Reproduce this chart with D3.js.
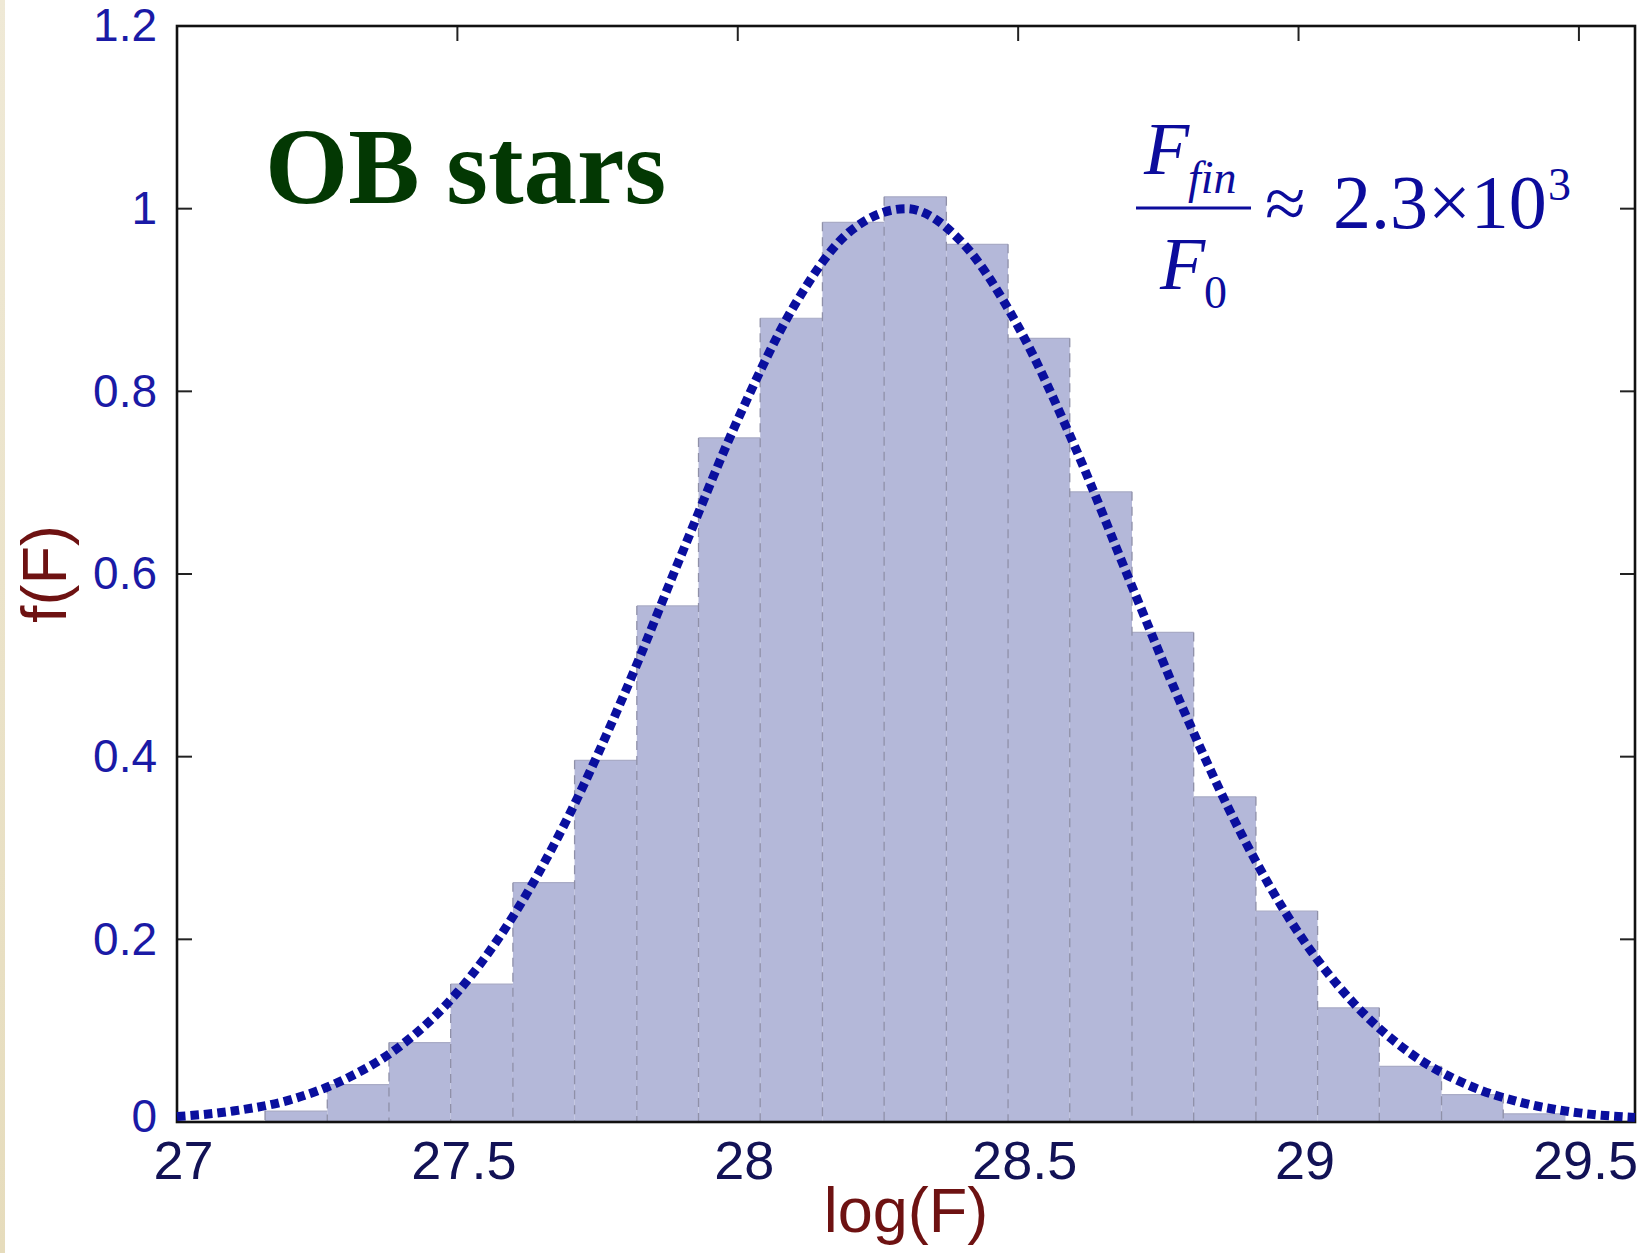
<!DOCTYPE html>
<html>
<head>
<meta charset="utf-8">
<script src="https://cdn.jsdelivr.net/npm/d3@7"></script>
<style>
  html, body { margin: 0; padding: 0; background: #ffffff; }
  svg { display: block; }
</style>
</head>
<body>
<svg id="chart" width="1648" height="1253"></svg>
<script>
// Histogram bin edges on log(F) and the normalised counts per bin
const binEdges = [27.157, 27.268, 27.378, 27.488, 27.599, 27.709, 27.820, 27.930,
                  28.040, 28.151, 28.261, 28.372, 28.482, 28.592, 28.703, 28.813,
                  28.924, 29.034, 29.144, 29.255, 29.365, 29.476];
const binHeights = [0.012, 0.041, 0.087, 0.151, 0.262, 0.396, 0.565, 0.749,
                    0.880, 0.985, 1.013, 0.961, 0.858, 0.690, 0.536, 0.356,
                    0.231, 0.125, 0.061, 0.030, 0.009];

// Fitted distribution sampled along log(F)
const fitX = [27.0, 27.1, 27.2, 27.3, 27.4, 27.5, 27.6, 27.7, 27.8, 27.9,
              28.0, 28.1, 28.2, 28.3, 28.4, 28.5, 28.6, 28.7, 28.8, 28.9,
              29.0, 29.1, 29.2, 29.3, 29.4, 29.5, 29.6];
const fitY = [0.006, 0.012, 0.024, 0.047, 0.084, 0.142, 0.226, 0.337, 0.472, 0.622,
              0.769, 0.893, 0.975, 1.000, 0.963, 0.871, 0.741, 0.591, 0.444, 0.313,
              0.207, 0.129, 0.075, 0.041, 0.021, 0.010, 0.005];

// Axis ticks
const xTicks = [27, 27.5, 28, 28.5, 29, 29.5];
const xTickLabels = ["27", "27.5", "28", "28.5", "29", "29.5"];
const yTicks = [0, 0.2, 0.4, 0.6, 0.8, 1, 1.2];
const yTickLabels = ["0", "0.2", "0.4", "0.6", "0.8", "1", "1.2"];

const svg = d3.select("#chart");
const W = 1648, H = 1253;
const plot = { left: 177, right: 1635, top: 26, bottom: 1122 };

const x = d3.scaleLinear().domain([27, 29.6]).range([plot.left, plot.right]);
const y = d3.scaleLinear().domain([0, 1.2]).range([plot.bottom, plot.top]);

// page background with the slide's beige strip on the left
svg.append("rect").attr("width", W).attr("height", H).attr("fill", "#ffffff");
const grad = svg.append("defs").append("linearGradient")
  .attr("id", "strip").attr("x1", 0).attr("x2", 0).attr("y1", 0).attr("y2", 1);
grad.append("stop").attr("offset", "0%").attr("stop-color", "#efe9d6");
grad.append("stop").attr("offset", "100%").attr("stop-color", "#e6dcbc");
svg.append("rect").attr("x", 0).attr("y", 0).attr("width", 5).attr("height", H)
  .attr("fill", "url(#strip)");

// histogram bars
const bins = binHeights.map((h, i) => ({ x0: binEdges[i], x1: binEdges[i + 1], h }));
const barG = svg.append("g");
barG.selectAll("rect").data(bins).join("rect")
  .attr("x", d => x(d.x0))
  .attr("y", d => y(d.h))
  .attr("width", d => x(d.x1) - x(d.x0))
  .attr("height", d => y(0) - y(d.h))
  .attr("fill", "#b4b8d9");

// bar tops
barG.selectAll("line.top").data(bins).join("line")
  .attr("class", "top")
  .attr("x1", d => x(d.x0)).attr("x2", d => x(d.x1))
  .attr("y1", d => y(d.h)).attr("y2", d => y(d.h))
  .attr("stroke", "#a9abc6").attr("stroke-width", 1.2);

// dashed bar sides
barG.selectAll("line.side").data(bins.slice(1)).join("line")
  .attr("class", "side")
  .attr("x1", d => x(d.x0)).attr("x2", d => x(d.x0))
  .attr("y1", (d, i) => y(Math.max(d.h, bins[i].h))).attr("y2", y(0))
  .attr("stroke", "#8f90a8").attr("stroke-width", 1.3)
  .attr("stroke-dasharray", "9,6");
barG.append("line")
  .attr("x1", x(bins[0].x0)).attr("x2", x(bins[0].x0))
  .attr("y1", y(bins[0].h)).attr("y2", y(0))
  .attr("stroke", "#8f90a8").attr("stroke-width", 1.3).attr("stroke-dasharray", "9,6");

// inward ticks on left, right and top
const tickLen = 15;
const tickG = svg.append("g").attr("stroke", "#222").attr("stroke-width", 2);
yTicks.filter(v => v > 0 && v < 1.2).forEach(v => {
  tickG.append("line").attr("x1", plot.left).attr("x2", plot.left + tickLen)
    .attr("y1", y(v)).attr("y2", y(v));
  tickG.append("line").attr("x1", plot.right).attr("x2", plot.right - tickLen)
    .attr("y1", y(v)).attr("y2", y(v));
});
xTicks.filter(v => v > 27).forEach(v => {
  tickG.append("line").attr("x1", x(v)).attr("x2", x(v))
    .attr("y1", plot.top).attr("y2", plot.top + tickLen);
});

// plot frame
svg.append("rect")
  .attr("x", plot.left).attr("y", plot.top)
  .attr("width", plot.right - plot.left).attr("height", plot.bottom - plot.top)
  .attr("fill", "none").attr("stroke", "#111").attr("stroke-width", 2.6);

// axis tick labels
const yAxis = d3.axisLeft(y).tickValues(yTicks)
  .tickFormat((d, i) => yTickLabels[i]).tickSize(0).tickPadding(20);
const yAxisG = svg.append("g").attr("transform", `translate(${plot.left},0)`).call(yAxis);
yAxisG.select(".domain").remove();
yAxisG.selectAll("text")
  .attr("font-family", "Liberation Sans, Arial, sans-serif")
  .attr("font-size", 46).attr("fill", "#1a1aa6");
// the zero label sits a little higher so it clears the first x label
yAxisG.selectAll("text").filter((d, i) => i === 0).attr("dy", "0.2em");

const xAxis = d3.axisBottom(x).tickValues(xTicks)
  .tickFormat((d, i) => xTickLabels[i]).tickSize(0).tickPadding(19);
const xAxisG = svg.append("g").attr("transform", `translate(0,${plot.bottom})`).call(xAxis);
xAxisG.select(".domain").remove();
xAxisG.selectAll("text")
  .attr("dx", 6)
  .attr("font-family", "Liberation Sans, Arial, sans-serif")
  .attr("font-size", 54).attr("fill", "#121256");

// axis titles
svg.append("text")
  .attr("x", (plot.left + plot.right) / 2).attr("y", 1232)
  .attr("text-anchor", "middle")
  .attr("font-family", "Liberation Sans, Arial, sans-serif")
  .attr("font-size", 63).attr("fill", "#6e1212")
  .text("log(F)");
svg.append("text")
  .attr("transform", `translate(66,${(plot.top + plot.bottom) / 2}) rotate(-90)`)
  .attr("text-anchor", "middle")
  .attr("font-family", "Liberation Sans, Arial, sans-serif")
  .attr("font-size", 63).attr("fill", "#6e1212")
  .text("f(F)");

// fitted curve, dotted
const line = d3.line()
  .x((d, i) => x(fitX[i]))
  .y(d => y(d))
  .curve(d3.curveMonotoneX);
svg.append("path")
  .datum(fitY)
  .attr("d", line)
  .attr("fill", "none")
  .attr("stroke", "#0a0f9e")
  .attr("stroke-width", 9)
  .attr("stroke-dasharray", "8.5,5");

// panel title
svg.append("text")
  .attr("x", 265).attr("y", 203)
  .attr("font-family", "Liberation Serif, Times New Roman, serif")
  .attr("font-weight", "bold")
  .attr("font-size", 107).attr("fill", "#033803")
  .text("OB stars");

// ratio annotation
const formulaColor = "#0c0c9c";
const serif = "Liberation Serif, Times New Roman, serif";
const f = svg.append("g").attr("fill", formulaColor).attr("font-family", serif);
f.append("text").attr("x", 1144).attr("y", 174)
  .attr("font-size", 74).attr("font-style", "italic").text("F");
f.append("text").attr("x", 1188).attr("y", 193)
  .attr("font-size", 46).attr("font-style", "italic").text("fin");
f.append("line").attr("x1", 1136).attr("x2", 1251).attr("y1", 208).attr("y2", 208)
  .attr("stroke", formulaColor).attr("stroke-width", 3);
f.append("text").attr("x", 1160).attr("y", 289)
  .attr("font-size", 74).attr("font-style", "italic").text("F");
f.append("text").attr("x", 1204).attr("y", 308)
  .attr("font-size", 46).text("0");
f.append("text").attr("x", 1265).attr("y", 228)
  .attr("font-size", 74).text("\u2248");
f.append("text").attr("x", 1333).attr("y", 228)
  .attr("font-size", 76).text("2.3\u00d710");
f.append("text").attr("x", 1548).attr("y", 200)
  .attr("font-size", 46).text("3");
</script>
</body>
</html>
